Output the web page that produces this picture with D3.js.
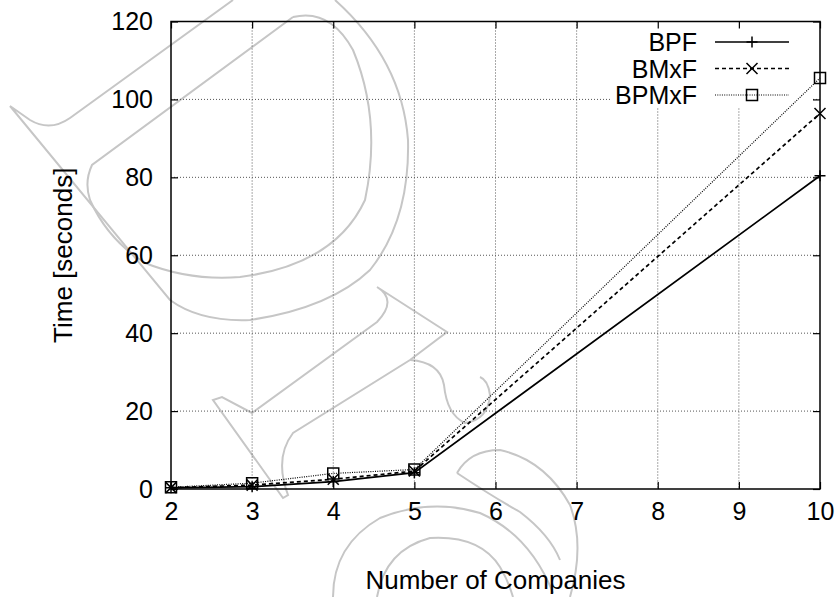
<!DOCTYPE html>
<html>
<head>
<meta charset="utf-8">
<script src="https://cdn.jsdelivr.net/npm/d3@7"></script>
<style>
    body { margin: 0; background: #fff; }
    text { font-family: "Liberation Sans", Arial, Helvetica, sans-serif; fill: #000; }
</style>
</head>
<body>
<div id="chart"></div>
<script>
// values
const companies = [2, 3, 4, 5, 10];
const bpfTimes = [0.3, 0.6, 1.9, 4.2, 80.4];
const bmxfTimes = [0.35, 1.0, 2.5, 4.6, 96.4];
const bpmxfTimes = [0.45, 1.5, 4.0, 5.0, 105.5];
const seriesNames = ["BPF", "BMxF", "BPMxF"];
const xTickValues = [2, 3, 4, 5, 6, 7, 8, 9, 10];
const yTickValues = [0, 20, 40, 60, 80, 100, 120];

// light "draft" watermark strokes behind the plot (decoration only)
const watermark = [
    "M233,0 L70,118 Q50,132 30,120 L10,106 L170,300 Q200,322 250,320 Q330,308 370,270 Q410,220 408,140 Q402,60 335,0",
    "M293,17 L92,165 Q84,182 90,200 Q108,240 145,263 Q190,281 240,277 Q335,265 365,200 Q382,120 353,50 Q330,8 293,17",
    "M283,498 L213,400 L222,397 L252,413 L377,322 Q398,300 377,287 L447,332 L410,360 L293,433 Q274,458 288,495 Z",
    "M410,360 Q440,362 444,385 Q447,415 465,423 Q488,420 490,395 Q488,380 480,377",
    "M333,597 Q333,545 380,518 Q430,498 480,513 Q530,535 553,593",
    "M377,597 Q385,550 430,538 Q480,535 500,567 Q508,580 513,597",
    "M457,473 Q470,450 500,450 Q545,460 570,505 Q585,545 570,597",
    "M457,473 Q490,495 520,512 Q550,535 560,560"
];

class GnuLineChart {
    constructor(selector) {
        this.selector = selector;
        this.margin = { top: 21.5, right: 18, bottom: 108, left: 171 };
        this.width = 838 - this.margin.left - this.margin.right;
        this.height = 597 - this.margin.top - this.margin.bottom;
        this.styles = [
            { dash: null, marker: "plus", width: 1.7 },
            { dash: "4,3", marker: "cross", width: 1.7 },
            { dash: "1,1.3", marker: "square", width: 1.2 }
        ];
        this.initChart();
    }

    initChart() {
        this.root = d3.select(this.selector)
            .append("svg")
            .attr("width", 838)
            .attr("height", 597);

        this.root.append("g")
            .selectAll("path")
            .data(watermark)
            .join("path")
            .attr("d", d => d)
            .attr("fill", "none")
            .attr("stroke", "#c6c6c6")
            .attr("stroke-width", 2);

        this.svg = this.root.append("g")
            .attr("transform", `translate(${this.margin.left},${this.margin.top})`);

        this.x = d3.scaleLinear().domain([2, 10]).range([0, this.width]);
        this.y = d3.scaleLinear().domain([0, 120]).range([this.height, 0]);
    }

    markerPath(type, s) {
        if (type === "plus") return `M${-s},0H${s}M0,${-s}V${s}`;
        if (type === "cross") return `M${-s},${-s}L${s},${s}M${-s},${s}L${s},${-s}`;
        return `M${-s},${-s}H${s}V${s}H${-s}Z`;
    }

    renderChart(series) {
        const g = this.svg;

        // dotted grid
        const grid = g.append("g")
            .attr("stroke", "#555")
            .attr("stroke-width", 1)
            .attr("stroke-dasharray", "1,2");
        grid.selectAll(".vg")
            .data(xTickValues.slice(1, -1))
            .join("line")
            .attr("x1", d => this.x(d)).attr("x2", d => this.x(d))
            .attr("y1", 0).attr("y2", this.height);
        grid.selectAll(".hg")
            .data(yTickValues.slice(1, -1))
            .join("line")
            .attr("x1", 0).attr("x2", this.width)
            .attr("y1", d => this.y(d)).attr("y2", d => this.y(d));

        // key background hides the grid under it
        const keyRight = this.width - 8;
        g.append("rect")
            .attr("x", keyRight - 200)
            .attr("y", 0)
            .attr("width", 200)
            .attr("height", 86)
            .attr("fill", "#fff");

        // axes with inward ticks and mirrored sides
        const tick = 7;
        g.append("g")
            .attr("transform", `translate(0,${this.height})`)
            .call(d3.axisBottom(this.x).tickValues(xTickValues).tickSize(-tick).tickPadding(13).tickFormat(d3.format("d")));
        g.append("g")
            .call(d3.axisTop(this.x).tickValues(xTickValues).tickSize(-tick).tickFormat(""));
        g.append("g")
            .call(d3.axisLeft(this.y).tickValues(yTickValues).tickSize(-tick).tickPadding(18).tickFormat(d3.format("d")));
        g.append("g")
            .attr("transform", `translate(${this.width},0)`)
            .call(d3.axisRight(this.y).tickValues(yTickValues).tickSize(-tick).tickFormat(""));

        g.selectAll(".domain").remove();
        g.selectAll(".tick line").attr("stroke", "#000").attr("stroke-width", 1.2);
        g.selectAll(".tick text")
            .style("font-size", "25px")
            .attr("fill", "#000");

        g.append("rect")
            .attr("width", this.width)
            .attr("height", this.height)
            .attr("fill", "none")
            .attr("stroke", "#000")
            .attr("stroke-width", 1.5);

        // lines + points
        const line = d3.line()
            .x(d => this.x(d.x))
            .y(d => this.y(d.y));

        series.forEach((s, i) => {
            const st = this.styles[i];
            const pts = companies.map((c, j) => ({ x: c, y: s.values[j] }));
            g.append("path")
                .datum(pts)
                .attr("d", line)
                .attr("fill", "none")
                .attr("stroke", "#000")
                .attr("stroke-width", st.width)
                .attr("stroke-dasharray", st.dash);
            g.append("g")
                .selectAll("path")
                .data(pts)
                .join("path")
                .attr("transform", d => `translate(${this.x(d.x)},${this.y(d.y)})`)
                .attr("d", this.markerPath(st.marker, 5.5))
                .attr("fill", "none")
                .attr("stroke", "#000")
                .attr("stroke-width", 1.5);
        });

        // key
        const key = g.append("g");
        series.forEach((s, i) => {
            const st = this.styles[i];
            const ky = 20.5 + i * 26.5;
            key.append("text")
                .attr("x", 526)
                .attr("y", ky)
                .attr("dy", "0.36em")
                .attr("text-anchor", "end")
                .style("font-size", "25px")
                .text(s.name);
            key.append("line")
                .attr("x1", 544).attr("x2", 618)
                .attr("y1", ky).attr("y2", ky)
                .attr("stroke", "#000")
                .attr("stroke-width", st.width)
                .attr("stroke-dasharray", st.dash);
            key.append("path")
                .attr("transform", `translate(581,${ky})`)
                .attr("d", this.markerPath(st.marker, 5.5))
                .attr("fill", "none")
                .attr("stroke", "#000")
                .attr("stroke-width", 1.5);
        });

        // axis titles
        this.root.append("text")
            .attr("x", this.margin.left + this.width / 2)
            .attr("y", 589)
            .attr("text-anchor", "middle")
            .style("font-size", "26px")
            .text("Number of Companies");
        this.root.append("text")
            .attr("transform", `translate(72,${this.margin.top + this.height / 2}) rotate(-90)`)
            .attr("text-anchor", "middle")
            .style("font-size", "26px")
            .text("Time [seconds]");
    }
}

const chart = new GnuLineChart("#chart");
chart.renderChart([
    { name: seriesNames[0], values: bpfTimes },
    { name: seriesNames[1], values: bmxfTimes },
    { name: seriesNames[2], values: bpmxfTimes }
]);
</script>
</body>
</html>
